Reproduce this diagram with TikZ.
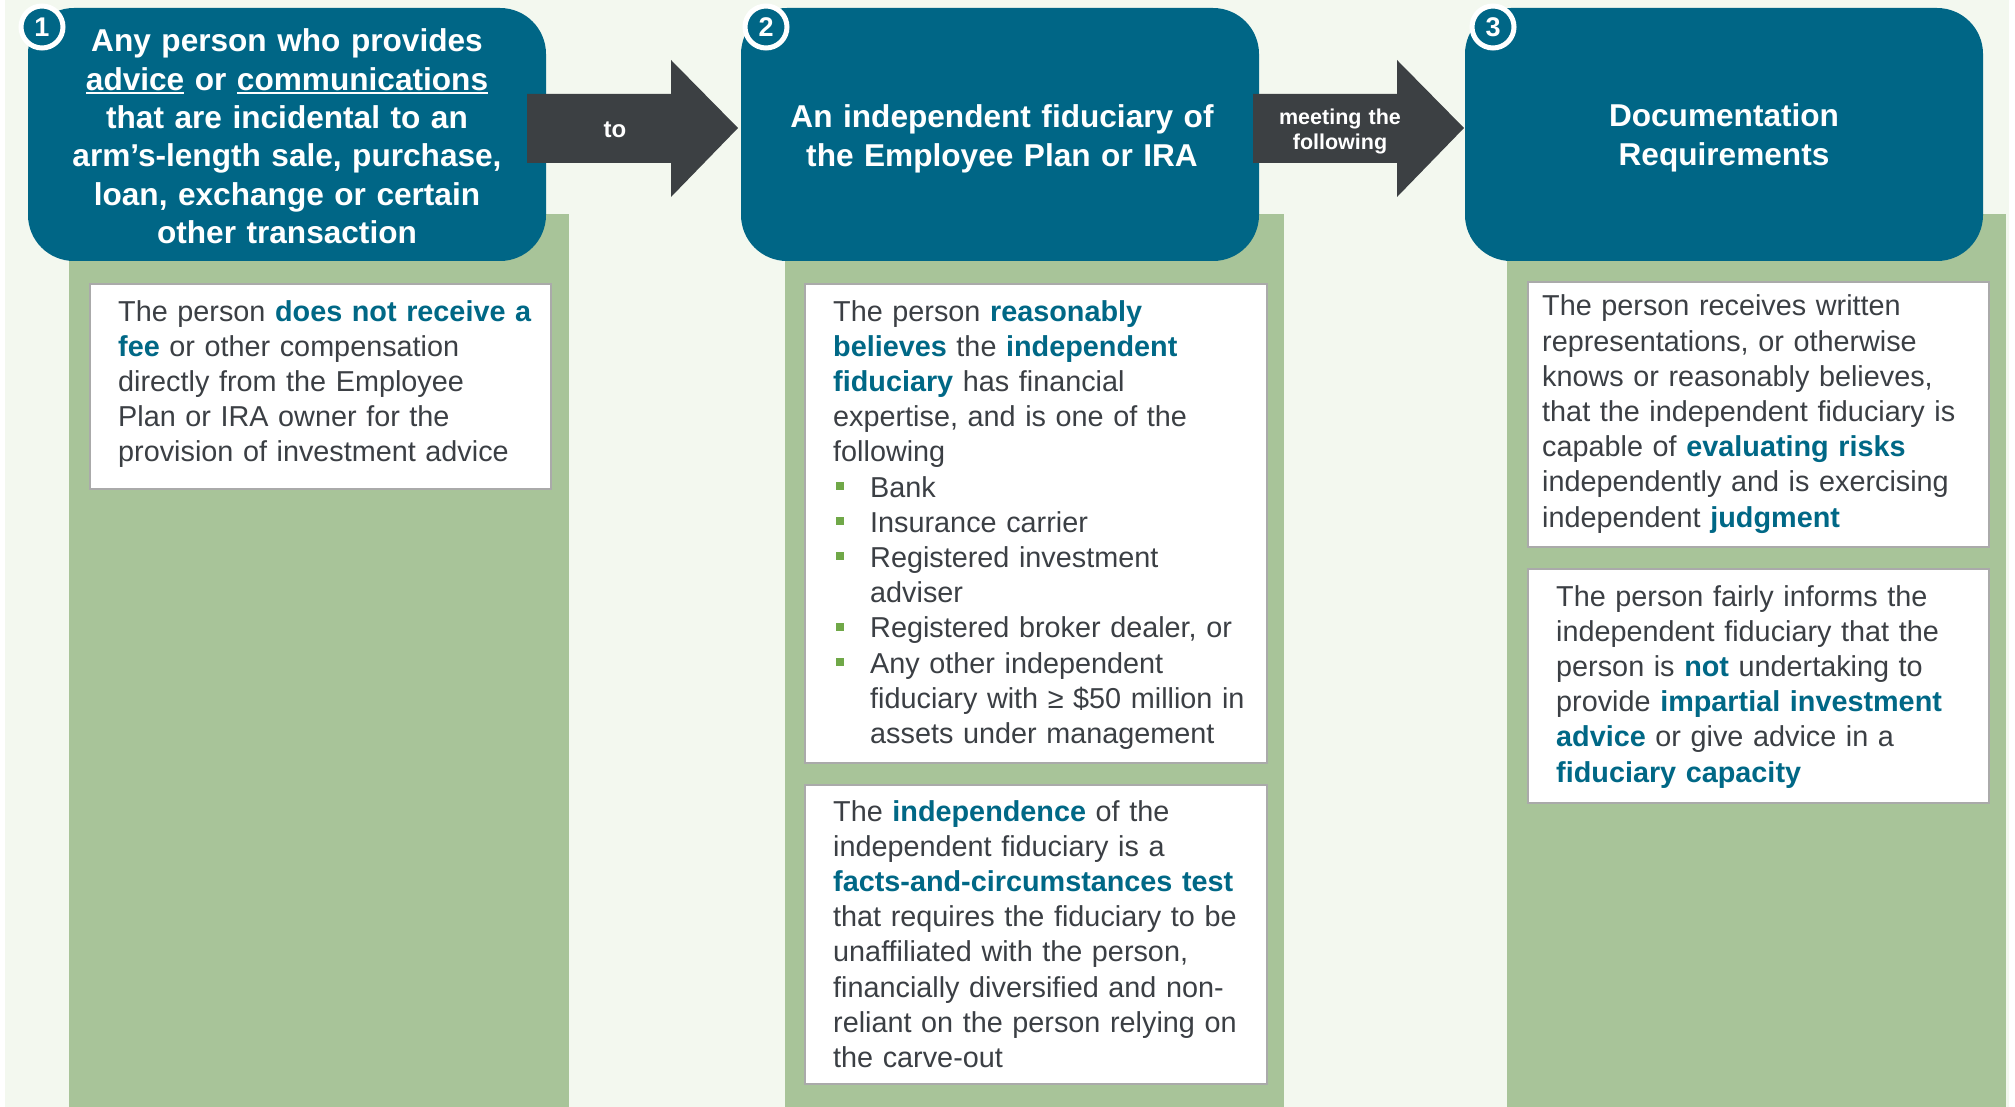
\documentclass[tikz,border=0pt]{standalone}
\usepackage{fontspec}
\setmainfont{Liberation Sans}
\definecolor{bgc}{RGB}{243,248,239}
\definecolor{bluec}{RGB}{0,102,134}
\definecolor{arrowc}{RGB}{60,64,67}
\definecolor{greenc}{RGB}{168,196,153}
\definecolor{txtc}{RGB}{59,63,68}
\definecolor{hlc}{RGB}{0,104,134}
\definecolor{bulc}{RGB}{112,168,72}
\definecolor{boxline}{RGB}{170,170,170}
\newcommand\hlt[1]{\textbf{\textcolor{hlc}{#1}}}
\newcommand\myul[1]{\leavevmode\setbox0\hbox{#1}\rlap{\rule[-4pt]{\wd0}{2.2pt}}\box0\relax}
\newcommand\sqbul{\leavevmode\makebox[37pt][l]{\hspace{3pt}\textcolor{bulc}{\rule[7pt]{8pt}{8pt}}}}
\newcommand\bulind{\leavevmode\hspace*{37pt}}
\begin{document}
\begin{tikzpicture}[x=1pt,y=-1pt,
  bluebox/.style={fill=bluec, rounded corners=46pt, inner sep=0pt, minimum width=518pt, minimum height=253pt},
  greencol/.style={fill=greenc},
  whitebox/.style={fill=white, draw=boxline, line width=2pt, inner sep=0pt, anchor=north west},
  badge/.style={circle, fill=bluec, draw=white, line width=5pt, minimum size=42pt, inner sep=0pt, text=white, font=\fontsize{27}{27}\selectfont\bfseries},
  headtxt/.style={anchor=base, inner sep=0pt, align=center, text width=510pt, text=white, font=\fontsize{31.6}{38.3}\selectfont\bfseries},
  bodytxt/.style={anchor=base west, inner sep=0pt, align=left, text width=450pt, text=txtc, font=\fontsize{28.8}{35.2}\selectfont},
  arrowshape/.style={fill=arrowc},
  arrowtxt/.style={anchor=base, inner sep=0pt, align=center, text width=140pt, text=white}
]
\useasboundingbox (0,0) rectangle (2015,1107);
\fill[white] (0,0) rectangle (2015,1107);
\fill[bgc] (5,0) rectangle (2009,1107);
% green columns
\fill[greencol] (69,214) rectangle (569,1107);
\fill[greencol] (785,214) rectangle (1284,1107);
\fill[greencol] (1507,214) rectangle (2006,1107);
% blue header boxes
\node[bluebox] (b1) at (287,134.5) {};
\node[bluebox] (b2) at (1000,134.5) {};
\node[bluebox] (b3) at (1724,134.5) {};
% arrows
\fill[arrowshape] (527,94) -- (671,94) -- (671,60) -- (738,128) -- (671,197) -- (671,163) -- (527,163) -- cycle;
\fill[arrowshape] (1253,94) -- (1397,94) -- (1397,60) -- (1464,128) -- (1397,197) -- (1397,163) -- (1253,163) -- cycle;
\node[arrowtxt, font=\fontsize{24}{24}\selectfont\bfseries] (lto) at (615,138) {to};
\node[arrowtxt, font=\fontsize{21.5}{24.4}\selectfont\bfseries] (lmeet) at (1340,125) {meeting the\\following};
% header texts
\node[headtxt] (h1) at (287,52) {Any person who provides\\\myul{advice} or \myul{communications}\\that are incidental to an\\arm’s-length sale, purchase,\\loan, exchange or certain\\other transaction};
\node[headtxt] (h2) at (1002,128) {An independent fiduciary of\\the Employee Plan or IRA};
\node[headtxt] (h3) at (1724,127) {Documentation\\Requirements};
% badges
\node[badge] (n1) at (42,27) {1};
\node[badge] (n2) at (766,27) {2};
\node[badge] (n3) at (1493,27) {3};
% white boxes
\node[whitebox, minimum width=461pt, minimum height=205pt] (w1) at (89,283) {};
\node[whitebox, minimum width=462pt, minimum height=479pt] (w2a) at (804,283) {};
\node[whitebox, minimum width=462pt, minimum height=299pt] (w2b) at (804,784) {};
\node[whitebox, minimum width=461pt, minimum height=265pt] (w3a) at (1527,281) {};
\node[whitebox, minimum width=461pt, minimum height=234pt] (w3b) at (1527,568) {};
% body texts
\node[bodytxt] (t1) at (118,321) {The person \hlt{does not receive a}\\\hlt{fee} or other compensation\\directly from the Employee\\Plan or IRA owner for the\\provision of investment advice};
\node[bodytxt] (t2a) at (833,321) {The person \hlt{reasonably}\\\hlt{believes} the \hlt{independent}\\\hlt{fiduciary} has financial\\expertise, and is one of the\\following\\\sqbul Bank\\\sqbul Insurance carrier\\\sqbul Registered investment\\\bulind adviser\\\sqbul Registered broker dealer, or\\\sqbul Any other independent\\\bulind fiduciary with ≥ \$50 million in\\\bulind assets under management};
\node[bodytxt] (t2b) at (833,821) {The \hlt{independence} of the\\independent fiduciary is a\\\hlt{facts-and-circumstances test}\\that requires the fiduciary to be\\unaffiliated with the person,\\financially diversified and non-\\reliant on the person relying on\\the carve-out};
\node[bodytxt] (t3a) at (1542,316) {The person receives written\\representations, or otherwise\\knows or reasonably believes,\\that the independent fiduciary is\\capable of \hlt{evaluating risks}\\independently and is exercising\\independent \hlt{judgment}};
\node[bodytxt] (t3b) at (1556,606) {The person fairly informs the\\independent fiduciary that the\\person is \hlt{not} undertaking to\\provide \hlt{impartial investment}\\\hlt{advice} or give advice in a\\\hlt{fiduciary capacity}};
\end{tikzpicture}
\end{document}
